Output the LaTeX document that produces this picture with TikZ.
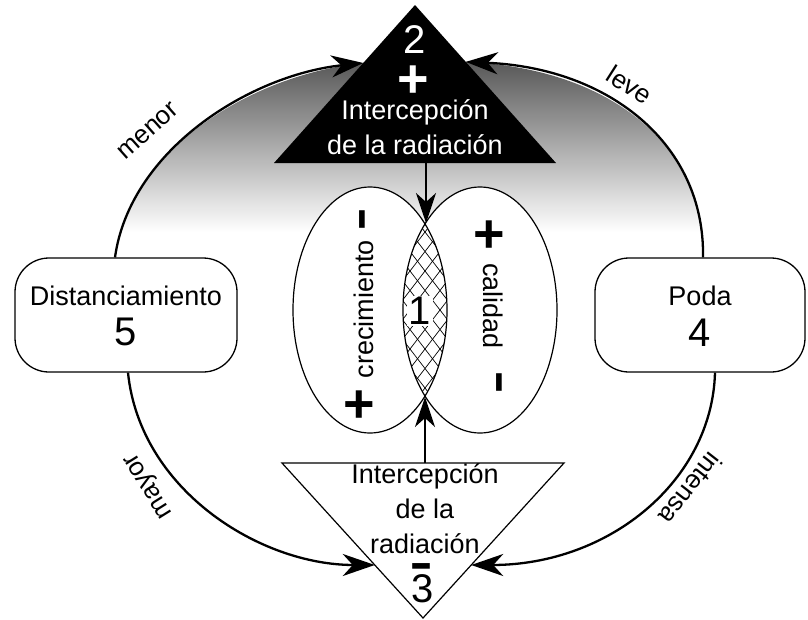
\documentclass[tikz,border=0pt]{standalone}
\usepackage{fontspec}
\setmainfont{Liberation Sans}
\usetikzlibrary{arrows.meta,calc}
\begin{document}
\begin{tikzpicture}[x=1pt,y=-1pt,
  arcline/.style={line width=2.3pt, -{Stealth[length=32pt,width=22pt,inset=10pt]}},
  midarrow/.style={line width=1.4pt, -{Stealth[length=30pt,width=20pt,inset=9pt]}},
  thinline/.style={line width=1.2pt},
  box/.style={draw, line width=1.3pt, rounded corners=34pt, fill=white, minimum height=114pt},
  lbl/.style={font=\fontsize{27}{27}\selectfont},
  bignum/.style={font=\fontsize{40}{40}\selectfont},
  plussign/.style={font=\fontsize{54}{54}\selectfont\bfseries, inner sep=0pt},
  minussign/.style={font=\fontsize{72}{72}\selectfont, inner sep=0pt},
  arclbl/.style={font=\fontsize{26}{26}\selectfont, inner sep=0pt}
]
\useasboundingbox (0,0) rectangle (808,619);

% boxes
\node[box, minimum width=222pt] (d5) at (126,315) {};
\node[box, minimum width=210pt] (p4) at (700,315) {};

% triangle corners
\coordinate (t2apex) at (415,5);
\coordinate (t2left) at (274,163);
\coordinate (t2right) at (556,163);
\coordinate (t3apex) at (423,618);
\coordinate (t3left) at (282,463);
\coordinate (t3right) at (564,463);
\coordinate (t2L) at ($(t2apex)!0.367!(t2left)$);
\coordinate (t2R) at ($(t2apex)!0.36!(t2right)$);
\coordinate (t3L) at ($(t3apex)!0.342!(t3left)$);
\coordinate (t3R) at ($(t3apex)!0.342!(t3right)$);
\coordinate (t2out) at (426,163);
\coordinate (t3out) at (425,463);
\coordinate (lensT) at (426,223);
\coordinate (lensB) at (425,397);
\coordinate (d5top) at ([xshift=-11pt]d5.north);
\coordinate (d5bot) at ([xshift=2pt]d5.south);
\coordinate (p4top) at ([xshift=3pt]p4.north);
\coordinate (p4bot) at ([xshift=15pt]p4.south);

% gradient
\begin{scope}
\clip (d5top) .. controls (130,150) and (250,75) .. (t2L) -- (t2R) .. controls (610,68) and (705,145) .. (p4top) -- cycle;
\shade[top color=black!66, bottom color=white] (0,60) rectangle (808,232);
\end{scope}

% ellipses
\fill[white] (370,310) ellipse [x radius=77pt, y radius=123pt];
\fill[white] (480,310) ellipse [x radius=77pt, y radius=123pt];
\begin{scope}
\clip (370,310) ellipse [x radius=77pt, y radius=123pt];
\clip (480,310) ellipse [x radius=77pt, y radius=123pt];
\foreach \i in {-12,...,12} {
  \draw[line width=0.7pt] (425+15*\i-100,180) -- ++(200,260);
  \draw[line width=0.7pt] (425+15*\i+100,180) -- ++(-200,260);
}
\end{scope}
\draw[thinline] (370,310) ellipse [x radius=77pt, y radius=123pt];
\draw[thinline] (480,310) ellipse [x radius=77pt, y radius=123pt];

% triangles
\fill[black] (t2apex) -- (t2left) -- (t2right) -- cycle;
\draw[thinline, fill=white] (t3apex) -- (t3left) -- (t3right) -- cycle;

% arcs
\draw[arcline] (d5top) .. controls (130,150) and (250,75) .. (t2L);
\draw[arcline] (p4top) .. controls (705,145) and (610,68) .. (t2R);
\draw[arcline] (d5bot) .. controls (140,490) and (260,565) .. (t3L);
\draw[arcline] (p4bot) .. controls (712,480) and (610,565) .. (t3R);

% middle arrows
\draw[midarrow] (t2out) -- (lensT);
\draw[midarrow] (t3out) -- (lensB);

% arc labels
\node[arclbl, rotate=41.6] (menor) at (148,131) {menor};
\node[arclbl, rotate=-32.6] (leve) at (630,85) {leve};
\node[arclbl, rotate=122] (mayor) at (150,485) {mayor};
\node[arclbl, rotate=-128] (intensa) at (691,489) {intensa};

% top triangle text
\node[bignum, text=white, anchor=base] (n2) at (415,53) {2};
\node[plussign, text=white, anchor=base] (p2) at (413,97) {+};
\node[lbl, text=white, anchor=base] (t2a) at (415,119) {Intercepción};
\node[lbl, text=white, anchor=base] (t2b) at (415,154) {de la radiación};

% bottom triangle text
\node[lbl, anchor=base] (t3a) at (425,483) {Intercepción};
\node[lbl, anchor=base] (t3b) at (425,518) {de la};
\node[lbl, anchor=base] (t3c) at (425,553) {radiación};
\node[minussign, anchor=base] (m3) at (421,585) {-};
\node[bignum, anchor=base] (n3) at (423,602) {3};

% ellipse text
\node[lbl, rotate=90, anchor=base] (cre) at (373,309) {crecimiento};
\node[lbl, rotate=-90, anchor=base] (cal) at (483,306) {calidad};
\node[plussign, anchor=base] (pl1) at (359,422) {+};
\node[plussign, anchor=base] (pl2) at (489,252) {+};
\node[minussign, rotate=90, anchor=base] (mi1) at (381,220) {-};
\node[minussign, rotate=90, anchor=base] (mi2) at (518,383) {-};
\node[bignum, fill=white, inner sep=1.5pt] (n1) at (420,311) {1};

% box text
\node[lbl, anchor=base] (d5a) at (126,305) {Distanciamiento};
\node[bignum, anchor=base] (d5b) at (126,345) {5};
\node[lbl, anchor=base] (p4a) at (700,305) {Poda};
\node[bignum, anchor=base] (p4b) at (700,346) {4};
\end{tikzpicture}
\end{document}
